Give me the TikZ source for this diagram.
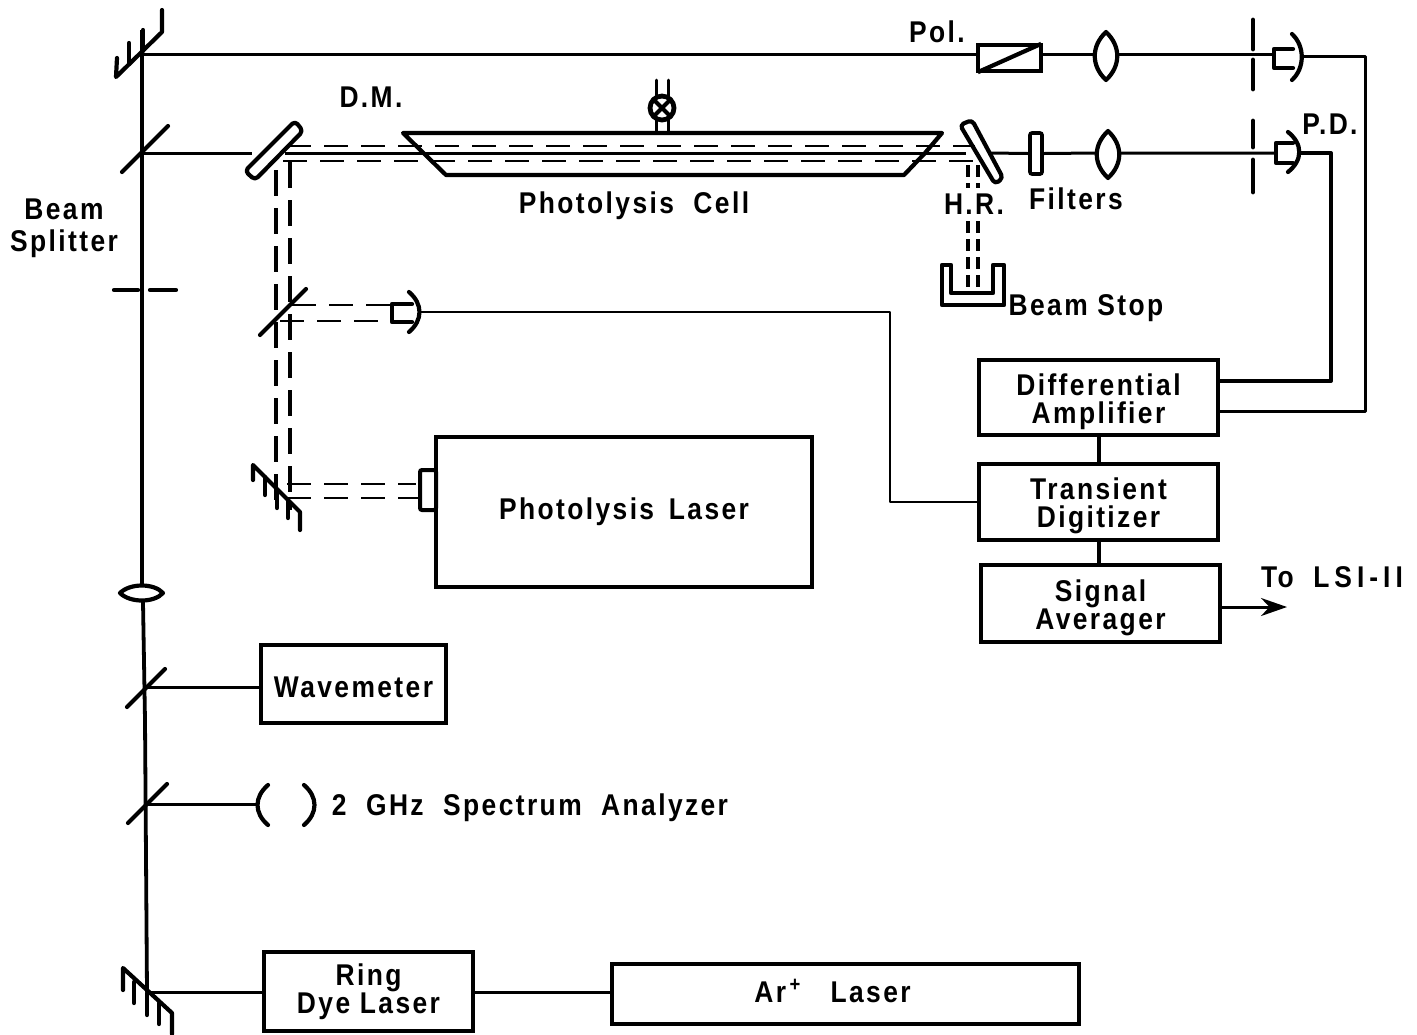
\documentclass[tikz,border=0pt]{standalone}
\usepackage{fontspec}
\setmainfont{Liberation Sans}[LetterSpace=8]
\newfontfamily\labfont{Liberation Sans}[LetterSpace=8,FakeStretch=0.88]
\usetikzlibrary{arrows.meta}
\newcommand{\lab}{\fontsize{15}{15}\selectfont\labfont\bfseries}
\newcommand{\tp}{\rule{0pt}{15pt}}
\tikzset{
  lw/.style={line width=1.5pt,line cap=round,line join=round},
  beam/.style={line width=1.5pt,line cap=butt},
  thick2/.style={line width=2.1pt,line cap=round,line join=round},
  dbeam/.style={line width=1.4pt,dash pattern=on 12pt off 6.5pt},
  dbeam2/.style={line width=2pt,dash pattern=on 13pt off 6pt},
  dbeam3/.style={line width=2pt,dash pattern=on 6pt off 3pt},
  box/.style={draw,line width=2.4pt,inner sep=0pt,align=center,font=\lab},
  lbl/.style={inner sep=0pt,font=\lab,align=center},
}
\begin{document}
\begin{tikzpicture}[x=0.5pt,y=-0.5pt]
\useasboundingbox (0,0) rectangle (1417,1034);
% boxes
\node[box,minimum width=119.5pt,minimum height=37.5pt] (da) at (1098.5,397.5) {\tp Differential\\[-1pt]Amplifier};
\node[box,minimum width=119.5pt,minimum height=38pt] (td) at (1098.5,502) {\tp Transient\\[-1pt]Digitizer};
\node[box,minimum width=119.5pt,minimum height=38.5pt] (sa) at (1100.5,603.5) {\tp Signal\\[-1pt]Averager};
\node[box,minimum width=188pt,minimum height=75pt] (pl) at (624,512) {Photolysis\ \,Laser};
\node[box,minimum width=92.5pt,minimum height=39pt] (wm) at (353.5,684) {\rule{0pt}{14pt}Wavemeter};
\node[box,minimum width=104.5pt,minimum height=39.5pt] (rd) at (368.5,991.5) {Ring\\[-1pt]Dye Laser};
\node[box,minimum width=233.5pt,minimum height=30pt] (ar) at (845.5,994) {Ar\textsuperscript{\,+}\ \ \ Laser\rule[-3pt]{0pt}{3pt}\hspace*{13pt}};
\node[draw,line width=2pt,minimum width=31.5pt,minimum height=13pt,inner sep=0pt] (pol) at (1009.5,58) {};
\node[draw,line width=1.8pt,minimum width=6pt,minimum height=20.5pt,inner sep=0pt,rounded corners=1pt] (fil) at (1036,153.5) {};
\node[draw,line width=2pt,minimum width=8pt,minimum height=20pt,inner sep=0pt,rounded corners=1pt] (lc) at (428,490) {};
% free coordinates
\coordinate (tl) at (142,54); \coordinate (sl) at (142,153);
\coordinate (vt) at (142,30); \coordinate (vb) at (147,992);
\coordinate (wl) at (145,687); \coordinate (sp) at (146,804);
\coordinate (sw) at (258,804);
% main vertical
\draw[beam,line width=1.9pt] (vt) -- (142,585) (143,602) -- (145,720) -- (vb);
% top beam
\draw[beam] (tl) -- (pol.west |- tl);
\draw[thick2,line cap=butt,shorten >=1pt,shorten <=1pt] (pol.south west) -- (pol.north east);
\draw[beam] (pol.east |- tl) -- (1095,54) (1117,54) -- (1273,54);
% lens shapes
\draw[thick2] (1106,32) .. controls (1091,46) and (1091,66) .. (1106,80) .. controls (1121,66) and (1121,46) .. (1106,32);
\draw[thick2] (1108,131) .. controls (1093,145) and (1093,164) .. (1108,178) .. controls (1123,164) and (1123,145) .. (1108,131);
\draw[thick2] (120,593) .. controls (130,583) and (154,583) .. (163,593) .. controls (154,603) and (130,603) .. (120,593);
% apertures
\draw[thick2,line width=2.4pt] (1253,20) -- (1253,49) (1253,60) -- (1253,89) (1253,121) -- (1253,147) (1253,160) -- (1253,192);
\draw[thick2] (114,290) -- (138,290) (150,290) -- (176,290);
% detector top
\draw[thick2] (1293,49) -- (1274,49) -- (1274,68) -- (1293,68);
\draw[thick2] (1292,34) .. controls (1305,46) and (1305,68) .. (1292,80);
\draw[lw] (1302,56) -- (1365,56) -- (1365,411) -- (da.east |- 0,411);
% detector second
\draw[thick2] (1293,143) -- (1276,143) -- (1276,163) -- (1293,163);
\draw[thick2] (1288,132) .. controls (1303,144) and (1303,160) .. (1288,172);
\draw[lw,line width=1.9pt] (1301,153) -- (1331,153) -- (1331,381) -- (da.east |- 0,381);
% second beam
\draw[beam] (sl) -- (252,153);
\draw[beam] (285,153) -- (966,153);
\draw[beam] (990,153) -- (fil.west) (fil.east) -- (1097,153) (1119,153) -- (1276,153);
% dichroic mirror
\draw[thick2,rounded corners=2pt] (295,121) -- (303,131) -- (255,180) -- (245,171) -- cycle;
% cell
\draw[thick2] (403,133) -- (942,133) -- (925,153) -- (904,175) -- (446,175) -- cycle;
% lamp
\draw[thick2,line width=2.4pt] (662,108) circle (12);
\draw[thick2] (653.5,99.5) -- (670.5,116.5) (653.5,116.5) -- (670.5,99.5);
\draw[lw] (656,80) -- (656,97) (668,80) -- (668,97) (656,119) -- (656,133) (668,119) -- (668,133);
% dashed beams
\draw[dbeam] (287,146) -- (975,146);
\draw[dbeam] (283,161) -- (975,161);
\draw[dbeam2] (276,170) -- (276,507);
\draw[dbeam2] (290,162) -- (290,510);
\draw[dbeam] (292,305) -- (392,305);
\draw[dbeam] (280,321) -- (392,321);
\draw[dbeam] (287,484) -- (416,484);
\draw[dbeam] (287,498) -- (420,498);
% HR mirror
\draw[thick2,rounded corners=2pt] (960,125) -- (972,120) -- (1003,178) -- (995,184) -- cycle;
\draw[dbeam3] (968,165) -- (968,188) (968,221) -- (968,292);
\draw[dbeam3] (978,165) -- (978,188) (978,221) -- (978,292);
% beam stop
\draw[thick2,line width=2.3pt] (951,265) -- (942,265) -- (942,305) -- (1004,305) -- (1004,265) -- (993,265) -- (993,293) -- (951,293) -- cycle;
% beam splitters
\draw[thick2] (122,172) -- (168,126);
\draw[thick2] (127,707) -- (165,669);
\draw[thick2] (128,823) -- (167,784);
\draw[thick2] (260,335) -- (306,289);
% top mirror
\draw[thick2] (117,58) -- (116,77) -- (162,32) -- (162,10);
\draw[thick2] (129,43) -- (129,64) (143,30) -- (143,51);
% bottom mirror
\draw[thick2] (123,990) -- (123,968) -- (172,1013) -- (172,1034);
\draw[thick2] (134,982) -- (134,1003) (147,993) -- (147,1015) (159,1003) -- (159,1024);
% photolysis mirror
\draw[thick2] (253,480) -- (253,465) -- (300,512) -- (300,530);
\draw[thick2] (265,477) -- (265,495) (277,490) -- (277,508) (288,500) -- (288,518);
% detector for reference
\draw[thick2] (412,304) -- (392,304) -- (392,322) -- (412,322);
\draw[thick2] (409,292) .. controls (423,304) and (423,320) .. (409,332);
\draw[lw,line width=1.3pt] (420,312) -- (890,312) -- (890,502) -- (td.west);
% connectors
\draw[lw,line width=2pt] (da.south) -- (td.north);
\draw[lw,line width=2pt] (td.south) -- (td.south |- sa.north);
\draw[lw,-{Stealth[length=13pt,width=9pt]}] (sa.east |- 0,607) -- (1287,607);
\draw[lw] (wl) -- (wm.west |- wl);
\draw[lw] (sp) -- (sw);
\draw[thick2] (268,785) .. controls (254,797) and (254,813) .. (268,825);
\draw[thick2] (304,785) .. controls (318,797) and (318,813) .. (304,825);
\draw[lw] (vb) -- (rd.west |- vb);
\draw[lw] (rd.east |- 0,992) -- (ar.west |- 0,992);
% labels
\node[lbl] (pol-l) at (937,32) {Pol.};
\node[lbl] (dm-l) at (371,97) {D.M.};
\node[lbl] (pc-l) at (634,206) {Photolysis\ \ Cell};
\node[lbl] (hr-l) at (974,204) {H.R.};
\node[lbl] (fl-l) at (1076,199) {Filters};
\node[lbl] (pd-l) at (1330,124) {P.D.};
\node[lbl] (bs-l) at (64,228) {Beam\\[1pt]Splitter};
\node[lbl] (bst-l) at (1086,308) {Beam Stop};
\node[lbl] (ls-l) at (1332,577) {To\ \ L\,S\,I\,-\,I\,I};
\node[lbl] (sp-l) at (530,808) {2\ \ GHz\ \ Spectrum\ \ Analyzer};
\end{tikzpicture}
\end{document}
